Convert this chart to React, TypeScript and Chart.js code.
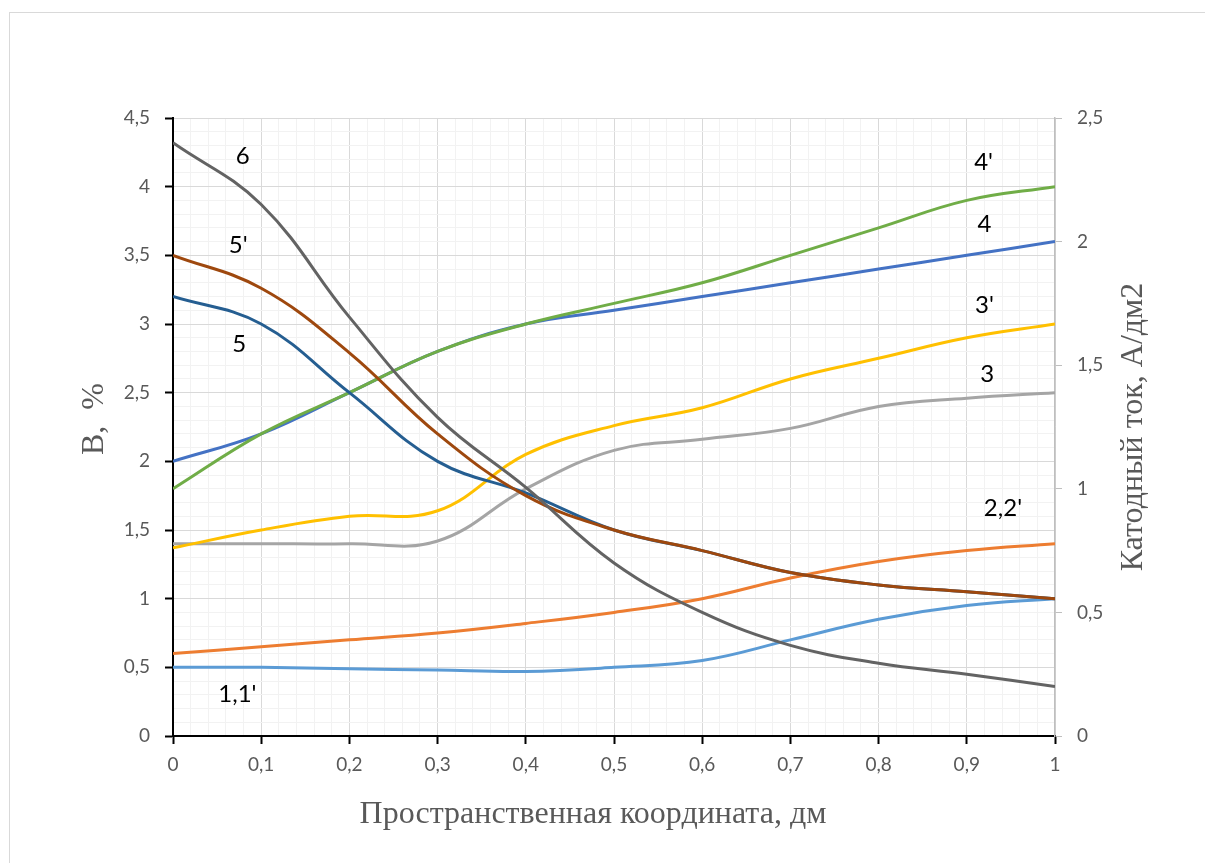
import React, { useEffect, useRef } from 'react';
import { Chart, registerables } from 'chart.js';

Chart.register(...registerables);

// X positions (пространственная координата, дм)
const xValues = [0, 0.1, 0.2, 0.3, 0.4, 0.5, 0.6, 0.7, 0.8, 0.9, 1];

// Series values (left axis units)
const s1 = [0.5, 0.5, 0.49, 0.48, 0.47, 0.5, 0.55, 0.7, 0.85, 0.95, 1.0];
const s2 = [0.6, 0.65, 0.7, 0.75, 0.82, 0.9, 1.0, 1.15, 1.27, 1.35, 1.4];
const s3 = [1.4, 1.4, 1.4, 1.42, 1.8, 2.08, 2.16, 2.24, 2.4, 2.46, 2.5];
const s3p = [1.37, 1.5, 1.6, 1.64, 2.05, 2.26, 2.39, 2.6, 2.75, 2.9, 3.0];
const s4 = [2.0, 2.2, 2.5, 2.8, 3.0, 3.1, 3.2, 3.3, 3.4, 3.5, 3.6];
const s4p = [1.8, 2.2, 2.5, 2.8, 3.0, 3.15, 3.3, 3.5, 3.7, 3.9, 4.0];
const s5 = [3.2, 3.0, 2.5, 2.0, 1.77, 1.5, 1.35, 1.19, 1.1, 1.05, 1.0];
const s5p = [3.5, 3.26, 2.79, 2.2, 1.75, 1.5, 1.35, 1.19, 1.1, 1.05, 1.0];
const s6 = [4.32, 3.87, 3.05, 2.32, 1.81, 1.26, 0.9, 0.66, 0.53, 0.45, 0.36];

// Curve annotations (text, position in data coordinates)
const labelTexts = ['6', "5'", '5', "4'", '4', "3'", '3', "2,2'", "1,1'"];
const labelX = [0.079, 0.074, 0.075, 0.919, 0.92, 0.92, 0.923, 0.941, 0.073];
const labelY = [4.218, 3.57, 2.854, 4.176, 3.728, 3.138, 2.636, 1.655, 0.306];

// Axis titles
const xTitle = 'Пространственная координата, дм';
const yTitle = 'В,  %';
const y2Title = 'Катодный ток, А/дм2';

const fmt = (v: number) => (Math.round(v * 10) / 10).toString().replace('.', ',');

const TICK_FONT = { family: 'Lato', size: 19 };
const TICK_COLOR = '#595959';

export default function App() {
  const ref = useRef<HTMLCanvasElement>(null);

  useEffect(() => {
    if (!ref.current) return;
    const mk = (label: string, data: number[], color: string) => ({
      label,
      data: xValues.map((x, i) => ({ x, y: data[i] })),
      borderColor: color,
      backgroundColor: color,
      borderWidth: 3,
      pointRadius: 0,
      pointHoverRadius: 0,
      tension: 0.4,
      fill: false,
      yAxisID: 'y',
    });

    const labelsPlugin = {
      id: 'curveLabels',
      afterDatasetsDraw(chart: any) {
        const { ctx, scales } = chart;
        const xs = scales.x;
        const ys = scales.y;
        ctx.save();
        ctx.font = '24px Lato';
        ctx.fillStyle = '#000000';
        ctx.textAlign = 'center';
        ctx.textBaseline = 'middle';
        labelTexts.forEach((t, i) => {
          ctx.fillText(t, xs.getPixelForValue(labelX[i]), ys.getPixelForValue(labelY[i]));
        });
        ctx.restore();
      },
    };

    const titlesPlugin = {
      id: 'axisTitles',
      afterDraw(chart: any) {
        const { ctx, chartArea } = chart;
        const midY = (chartArea.top + chartArea.bottom) / 2;
        const midX = (chartArea.left + chartArea.right) / 2;
        ctx.save();
        ctx.font = '32px "Liberation Serif"';
        ctx.fillStyle = '#595959';
        ctx.textAlign = 'center';
        ctx.textBaseline = 'middle';
        ctx.fillText(xTitle, midX - 21, chartArea.bottom + 79);
        ctx.save();
        ctx.translate(chartArea.left - 78, midY - 8);
        ctx.rotate(-Math.PI / 2);
        ctx.fillText(yTitle, 0, 0);
        ctx.restore();
        ctx.save();
        ctx.translate(chartArea.right + 79, midY);
        ctx.rotate(-Math.PI / 2);
        ctx.fillText(y2Title, 0, 0);
        ctx.restore();
        ctx.restore();
      },
    };

    const chart = new Chart(ref.current, {
      type: 'line',
      data: {
        datasets: [
          mk('6', s6, '#636363'),
          mk("5'", s5p, '#9E480E'),
          mk('5', s5, '#255E91'),
          mk("4'", s4p, '#70AD47'),
          mk('4', s4, '#4472C4'),
          mk("3'", s3p, '#FFC000'),
          mk('3', s3, '#A5A5A5'),
          mk("2,2'", s2, '#ED7D31'),
          mk("1,1'", s1, '#5B9BD5'),
        ] as any,
      },
      options: {
        animation: false,
        responsive: false,
        devicePixelRatio: 1,
        events: [],
        layout: { padding: { left: 0, right: 0, top: 118, bottom: 0 } },
        plugins: { legend: { display: false }, tooltip: { enabled: false } },
        scales: {
          x: {
            type: 'linear',
            position: 'bottom',
            min: 0,
            max: 1,
            afterFit: (s: any) => {
              s.height = 127;
            },
            ticks: {
              stepSize: 0.02,
              maxTicksLimit: 1000,
              autoSkip: false,
              maxRotation: 0,
              padding: 9,
              font: TICK_FONT,
              color: TICK_COLOR,
              callback: (v: any, i: number) => (i % 5 === 0 ? fmt(Number(v)) : ''),
            },
            grid: {
              color: (c: any) => (c.index % 5 === 0 ? '#d9d9d9' : '#f2f2f2'),
              lineWidth: 1,
              tickLength: 8,
              tickWidth: 2,
              tickColor: (c: any) => (c.index % 5 === 0 ? '#000000' : 'rgba(0,0,0,0)'),
            },
            border: { color: '#000000', width: 2 },
          },
          y: {
            type: 'linear',
            position: 'left',
            min: 0,
            max: 4.5,
            afterFit: (s: any) => {
              s.width = 173;
            },
            ticks: {
              stepSize: 0.1,
              maxTicksLimit: 1000,
              autoSkip: false,
              padding: 15,
              font: TICK_FONT,
              color: TICK_COLOR,
              callback: (v: any, i: number) => (i % 5 === 0 ? fmt(Number(v)) : ''),
            },
            grid: {
              color: (c: any) => (c.index % 5 === 0 ? '#d9d9d9' : '#f2f2f2'),
              lineWidth: 1,
              tickLength: 8,
              tickWidth: 2,
              tickColor: (c: any) => (c.index % 5 === 0 ? '#000000' : 'rgba(0,0,0,0)'),
            },
            border: { color: '#000000', width: 2 },
          },
          y2: {
            type: 'linear',
            position: 'right',
            min: 0,
            max: 2.5,
            afterFit: (s: any) => {
              s.width = 150;
            },
            ticks: {
              stepSize: 0.5,
              padding: 15,
              font: TICK_FONT,
              color: TICK_COLOR,
              callback: (v: any) => fmt(Number(v)),
            },
            grid: {
              drawOnChartArea: false,
              tickLength: 7,
              tickWidth: 1,
              tickColor: '#bfbfbf',
            },
            border: { color: '#bfbfbf', width: 1.5 },
          },
        },
      } as any,
      plugins: [labelsPlugin, titlesPlugin],
    });
    return () => chart.destroy();
  }, []);

  return (
    <div
      style={{
        position: 'absolute',
        left: 0,
        top: 0,
        width: 1205,
        height: 863,
        overflow: 'hidden',
        background: '#ffffff',
      }}
    >
      <div
        style={{
          position: 'absolute',
          left: 9,
          top: 12,
          width: 1300,
          height: 1000,
          border: '1px solid #d9d9d9',
          boxSizing: 'border-box',
        }}
      />
      <canvas
        ref={ref}
        width={1205}
        height={863}
        style={{ position: 'absolute', left: 0, top: 0, width: 1205, height: 863 }}
      />
    </div>
  );
}
